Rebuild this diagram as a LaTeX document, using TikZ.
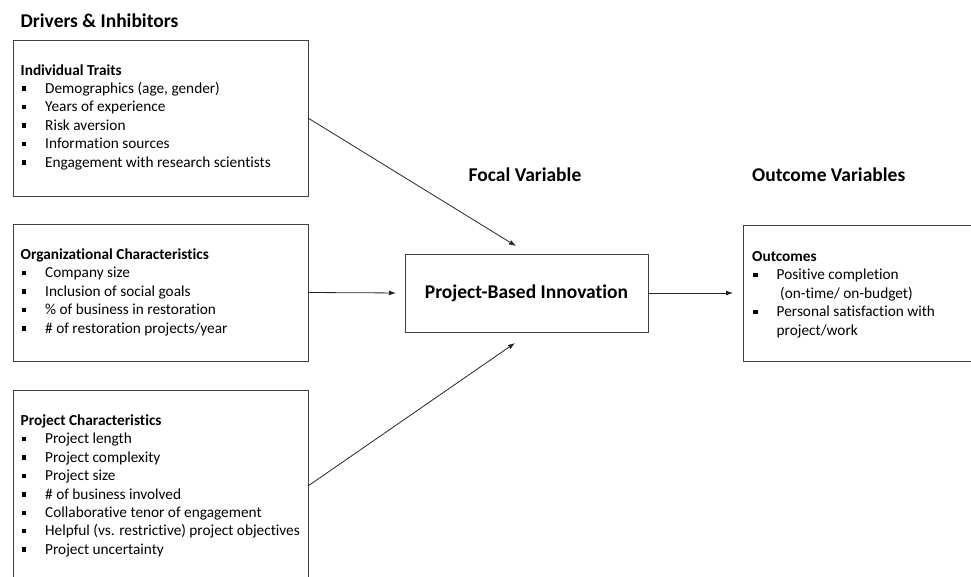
\documentclass[tikz,border=0pt]{standalone}
\usepackage{fontspec}
\setmainfont[Ligatures={NoCommon}]{Carlito}
\usetikzlibrary{arrows.meta}

% square list marker followed by the indent of the item text
\newcommand{\itm}{\makebox[24.5pt][l]{\hspace{1pt}\rule[2.5pt]{4.5pt}{4.5pt}}}
% indent for a wrapped item line
\newcommand{\cnt}{\hspace*{24.5pt}}

\begin{document}
\begin{tikzpicture}[x=1pt,y=-1pt,
  box/.style={draw=black!75, line width=0.9pt, inner sep=0pt, outer sep=0pt, anchor=north west},
  lst/.style={anchor=base west, inner sep=0pt, font=\fontsize{15.3}{18.4}\selectfont},
  ttl/.style={font=\fontsize{19.5}{23}\selectfont\bfseries, inner sep=0pt},
  conn/.style={draw=black!85, line width=0.8pt, -{Latex[length=7pt,width=5pt]}}]

\useasboundingbox (0,0) rectangle (971,576);
\clip (0,0) rectangle (971,576);

% column headings
\node[ttl, anchor=base west] (dri) at (20.5,27.8) {Drivers \& Inhibitors};
\node[ttl, anchor=base] (foc) at (525,181) {Focal Variable};
\node[ttl, anchor=base west] (ov) at (752,181) {Outcome Variables};

% driver boxes
\node[box, minimum width=295pt, minimum height=156pt] (b1) at (13,40) {};
\node[box, minimum width=295pt, minimum height=137pt] (b2) at (13,224) {};
\node[box, minimum width=295pt, minimum height=192pt] (b3) at (13,390) {};

\node[lst] (t1) at (20.5,75) {\begin{tabular}[t]{@{}l@{}}
  \textbf{Individual Traits}\\
  \itm Demographics (age, gender)\\
  \itm Years of experience\\
  \itm Risk aversion\\
  \itm Information sources\\
  \itm Engagement with research scientists
\end{tabular}};

\node[lst] (t2) at (20.5,259.5) {\begin{tabular}[t]{@{}l@{}}
  \textbf{Organizational Characteristics}\\
  \itm Company size\\
  \itm Inclusion of social goals\\
  \itm \% of business in restoration\\
  \itm \# of restoration projects/year
\end{tabular}};

\node[lst] (t3) at (20.5,425.5) {\begin{tabular}[t]{@{}l@{}}
  \textbf{Project Characteristics}\\
  \itm Project length\\
  \itm Project complexity\\
  \itm Project size\\
  \itm \# of business involved\\
  \itm Collaborative tenor of engagement\\
  \itm Helpful (vs. restrictive) project objectives\\
  \itm Project uncertainty
\end{tabular}};

% focal variable
\node[box, minimum width=243pt, minimum height=78pt] (pbi) at (405,254) {};
\node[ttl] (pbit) at (pbi.center) {Project-Based Innovation};

% outcome box
\node[box, minimum width=250pt, minimum height=136pt] (out) at (743,225) {};
\node[lst] (t4) at (752,261.5) {\begin{tabular}[t]{@{}l@{}}
  \textbf{Outcomes}\\
  \itm Positive completion\\
  \cnt\ (on-time/ on-budget)\\
  \itm Personal satisfaction with\\
  \cnt project/work
\end{tabular}};

% connectors
\coordinate (e1) at (516,246);
\coordinate (e3) at (515,343);
\draw[conn] (b1.east) -- (e1);
\draw[conn, shorten >=9pt] (b2.east) -- (pbi.west);
\draw[conn] (b3.east) -- (e3);
\draw[conn, shorten >=10pt] (pbi.east) -- (out.west);
\end{tikzpicture}
\end{document}
